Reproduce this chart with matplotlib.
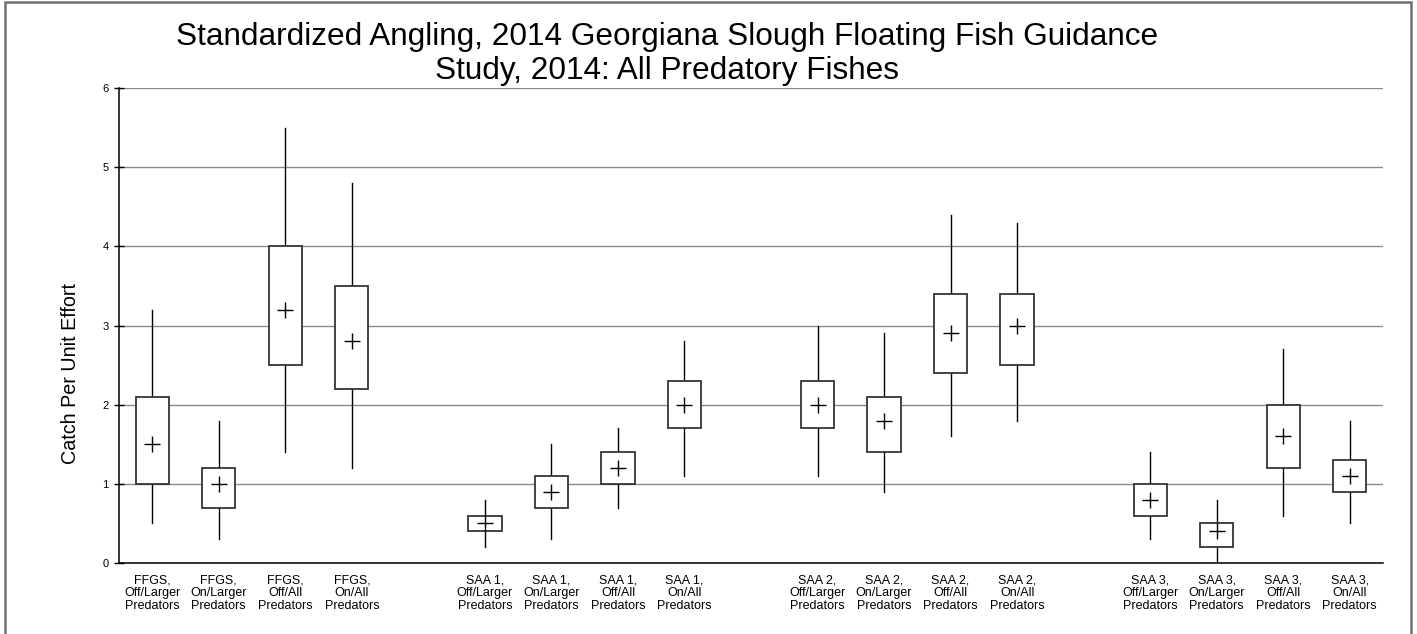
import matplotlib.pyplot as plt
from matplotlib.patches import Rectangle

plt.rcParams['font.family'] = ['Liberation Sans', 'DejaVu Sans']

# box statistics per group: whisker low/high, box low/high, mean
labels = [
	'FFGS,\nOff/Larger\nPredators', 'FFGS,\nOn/Larger\nPredators', 'FFGS,\nOff/All\nPredators', 'FFGS,\nOn/All\nPredators',
	'SAA 1,\nOff/Larger\nPredators', 'SAA 1,\nOn/Larger\nPredators', 'SAA 1,\nOff/All\nPredators', 'SAA 1,\nOn/All\nPredators',
	'SAA 2,\nOff/Larger\nPredators', 'SAA 2,\nOn/Larger\nPredators', 'SAA 2,\nOff/All\nPredators', 'SAA 2,\nOn/All\nPredators',
	'SAA 3,\nOff/Larger\nPredators', 'SAA 3,\nOn/Larger\nPredators', 'SAA 3,\nOff/All\nPredators', 'SAA 3,\nOn/All\nPredators',
]
positions = [0, 1, 2, 3, 5, 6, 7, 8, 10, 11, 12, 13, 15, 16, 17, 18]
whisker_lo = [0.5, 0.3, 1.4, 1.2, 0.2, 0.3, 0.7, 1.1, 1.1, 0.9, 1.6, 1.8, 0.3, 0.0, 0.6, 0.5]
whisker_hi = [3.2, 1.8, 5.5, 4.8, 0.8, 1.5, 1.7, 2.8, 3.0, 2.9, 4.4, 4.3, 1.4, 0.8, 2.7, 1.8]
box_lo     = [1.0, 0.7, 2.5, 2.2, 0.4, 0.7, 1.0, 1.7, 1.7, 1.4, 2.4, 2.5, 0.6, 0.2, 1.2, 0.9]
box_hi     = [2.1, 1.2, 4.0, 3.5, 0.6, 1.1, 1.4, 2.3, 2.3, 2.1, 3.4, 3.4, 1.0, 0.5, 2.0, 1.3]
means      = [1.5, 1.0, 3.2, 2.8, 0.5, 0.9, 1.2, 2.0, 2.0, 1.8, 2.9, 3.0, 0.8, 0.4, 1.6, 1.1]

fig = plt.figure(figsize=(14.17, 6.34), dpi=100)
ax = fig.add_axes([119/1417, 1 - 563/634, (1383 - 119)/1417, (563 - 88)/634])

box_w = 0.5
for i, x in enumerate(positions):
	ax.plot([x, x], [whisker_lo[i], box_lo[i]], color='black', lw=1.0, zorder=3)
	ax.plot([x, x], [box_hi[i], whisker_hi[i]], color='black', lw=1.0, zorder=3)
	ax.add_patch(Rectangle((x - box_w/2, box_lo[i]), box_w, box_hi[i] - box_lo[i],
		facecolor='white', edgecolor='#353535', lw=1.3, zorder=3))
	ax.plot(x, means[i], marker='+', ms=12, mew=1.0, color='black', zorder=4)

ax.set_xlim(-0.5, 18.5)
ax.set_ylim(0, 6)
ax.set_yticks(range(7))
ax.set_xticks(positions)
ax.set_xticklabels(labels, fontsize=9, linespacing=1.12)
ax.tick_params(axis='x', length=0, pad=8)
ax.tick_params(axis='y', direction='inout', length=7, width=1, labelsize=8, pad=4)
ax.grid(axis='y', color='#8a8a8a', lw=1)
ax.set_axisbelow(True)
for s in ['top', 'right']:
	ax.spines[s].set_visible(False)
ax.spines['left'].set_linewidth(1.1)
ax.spines['bottom'].set_linewidth(1.1)

fig.text(667/1417, 1 - 45/634, 'Standardized Angling, 2014 Georgiana Slough Floating Fish Guidance',
	ha='center', va='baseline', fontsize=22.7)
fig.text(667/1417, 1 - 79/634, 'Study, 2014: All Predatory Fishes',
	ha='center', va='baseline', fontsize=22.7)
fig.text(70/1417, 1 - 373/634, 'Catch Per Unit Effort', rotation=90,
	ha='center', va='center', fontsize=14.2)

fig.add_artist(Rectangle((5/1417, -0.05), (1411 - 5)/1417, 1.05 - 2/634,
	transform=fig.transFigure, fill=False, edgecolor='#707070', lw=1.8, clip_on=False))

fig.savefig('out.png', dpi=100)
